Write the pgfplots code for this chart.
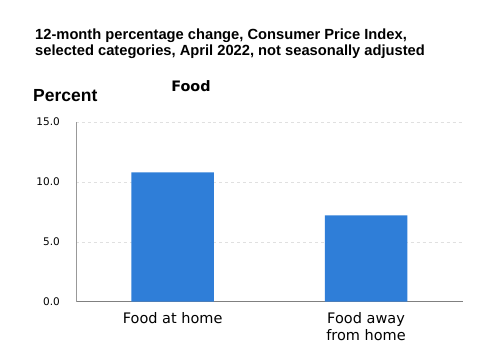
\documentclass[border=0pt]{standalone}
\usepackage{pgfplots}
\pgfplotsset{compat=1.18}
\usepackage{fontspec}
\setmainfont{DejaVu Sans}
\newfontfamily\arialfont{Liberation Sans}
\definecolor{barblue}{HTML}{2F7ED8}
\begin{document}
\begin{tikzpicture}[x=1bp,y=1bp]
\path[use as bounding box, fill=white] (0,0) rectangle (501,352);
\node[anchor=base west, inner sep=0pt, font=\arialfont\bfseries\fontsize{14.7bp}{16bp}\selectfont] at (35,313) {12-month percentage change, Consumer Price Index,};
\node[anchor=base west, inner sep=0pt, font=\arialfont\bfseries\fontsize{14.7bp}{16bp}\selectfont] at (35,297) {selected categories, April 2022, not seasonally adjusted};
\node[anchor=base west, inner sep=0pt, font=\arialfont\bfseries\fontsize{17.5bp}{20bp}\selectfont] at (33,251) {Percent};
\node[anchor=base, inner sep=0pt, font=\bfseries\fontsize{14.4bp}{17bp}\selectfont] at (191,261) {Food};
\begin{axis}[
  at={(76bp,50.3bp)}, anchor=south west,
  scale only axis, width=386.7bp, height=179.7bp,
  xmin=-0.5, xmax=1.5, ymin=0, ymax=15,
  ytick={0,5,10,15},
  xtick={0,1},
  xticklabels={Food at home,{Food away\\from home}},
  ybar, bar width=82.5bp, bar shift=0pt,
  axis x line=bottom, axis y line=left,
  axis line style={-},
  x axis line style={draw=black!50, line width=1.2pt},
  y axis line style={draw=black!40, line width=0.8pt},
  major tick length=0pt,
  ymajorgrids, grid style={dashed, draw=black!12, line width=0.6pt},
  yticklabel style={/pgf/number format/.cd, fixed, fixed zerofill, precision=1, assume math mode=true, /tikz/.cd, font=\fontsize{10.5bp}{12bp}\selectfont, anchor=east, inner sep=0pt, xshift=-16bp},
  xticklabel style={align=center, font=\fontsize{14.5bp}{17bp}\selectfont, anchor=north, inner sep=0pt, yshift=-11bp},
]
\addplot[fill=barblue, draw=none] coordinates {(0,10.8) (1,7.2)};
\end{axis}
\end{tikzpicture}
\end{document}
